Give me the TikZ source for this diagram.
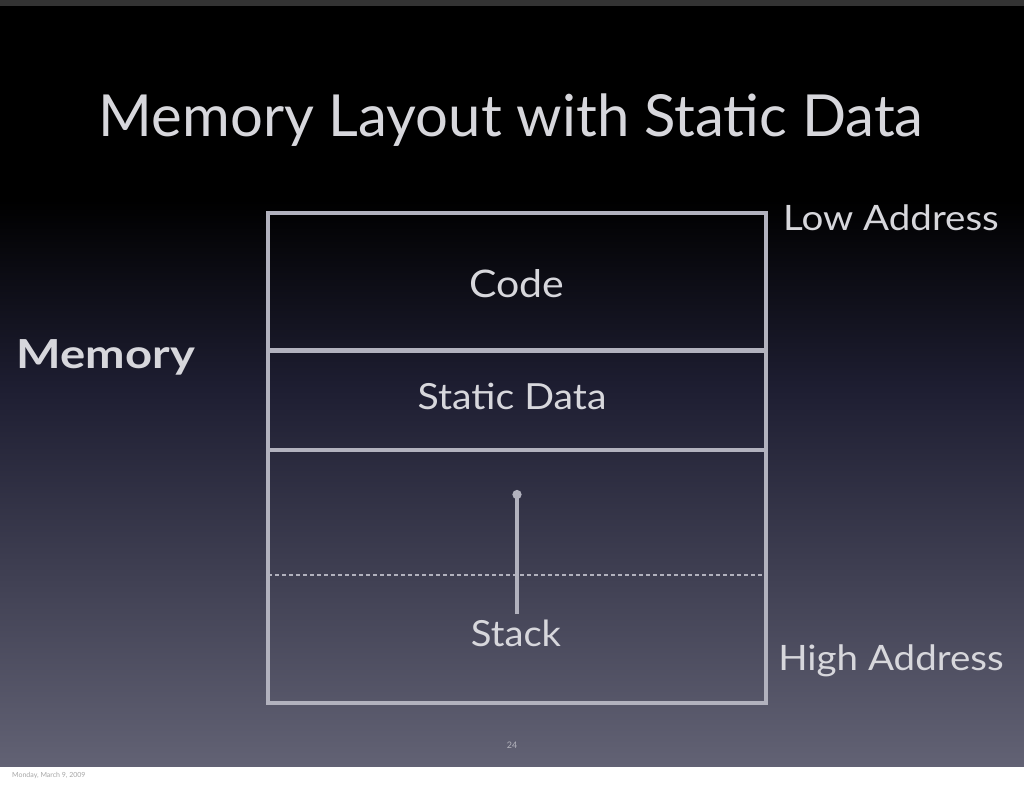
\documentclass[tikz,border=0pt]{standalone}
\usepackage{fontspec}
\setmainfont{Lato}
\usetikzlibrary{arrows.meta}
\definecolor{txt}{RGB}{215,215,220}
\definecolor{ln}{RGB}{178,178,190}
\definecolor{bgbot}{RGB}{98,98,116}
\definecolor{bgmid}{RGB}{30,30,50}
\tikzset{
  lbl/.style={text=txt, inner sep=0pt},
  seg/.style={draw=ln, line width=3.5pt},
}
\begin{document}
\begin{tikzpicture}[x=1pt,y=-1pt]
\useasboundingbox (0,0) rectangle (1024,788);
\fill[white] (0,0) rectangle (1024,788);
\fill[black] (0,6) rectangle (1024,200);
\shade[top color=black, bottom color=bgmid] (0,200) rectangle (1024,390);
\shade[top color=bgmid, bottom color=bgbot] (0,390) rectangle (1024,766);
\fill[black!80] (0,0) rectangle (1024,6);
% title
\node[lbl, font=\fontsize{58}{66}\selectfont] (title) at (511,120) {Memory Layout with Static Data};
% memory box
\draw[seg] (268,213) rectangle (766,703);
\coordinate (b1l) at (268,350); \coordinate (b1r) at (766,350);
\coordinate (b2l) at (268,450); \coordinate (b2r) at (766,450);
\coordinate (b3l) at (268,575); \coordinate (b3r) at (766,575);
\draw[draw=ln, line width=5pt] (b1l) -- (b1r);
\draw[seg] (b2l) -- (b2r);
\draw[draw=ln, line width=2pt, dash pattern=on 4pt off 3pt] (b3l) -- (b3r);
\node[lbl, font=\fontsize{38}{44}\selectfont, xscale=1.08] (code) at (517,284) {Code};
\node[lbl, font=\fontsize{36}{42}\selectfont, xscale=1.09] (static) at (512,396) {Static Data};
\node[lbl, font=\fontsize{36}{42}\selectfont, xscale=1.06] (stack) at (516,633) {Stack};
\coordinate (atop) at (517,490);
\coordinate (abot) at (517,614);
\draw[draw=ln, line width=3.5pt, -{Circle[length=9pt]}] (abot) -- (atop);
% side labels
\node[lbl, font=\fontsize{40}{46}\selectfont\bfseries, xscale=1.18] (mem) at (106,357) {Memory};
\node[lbl, font=\fontsize{35}{40}\selectfont, xscale=1.1] (low) at (891,218) {Low Address};
\node[lbl, font=\fontsize{35}{40}\selectfont, xscale=1.1] (high) at (891,661) {High Address};
% page number and footer
\node[lbl, text=txt!70!bgbot, font=\fontsize{9}{10}\selectfont] (pg) at (512,745) {24};
\node[inner sep=0pt, text=black!35, font=\fontsize{7}{8}\selectfont, anchor=west] (foot) at (12,776) {Monday, March 9, 2009};
\end{tikzpicture}
\end{document}
